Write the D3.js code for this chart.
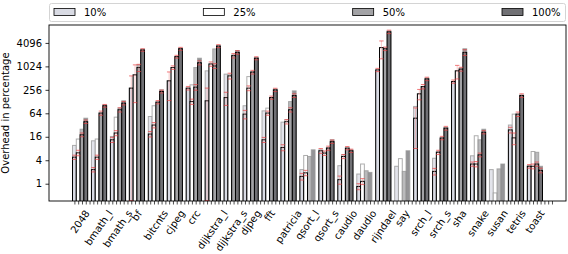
<!DOCTYPE html>
<html>
<head>
<meta charset="utf-8">
<script src="https://cdn.jsdelivr.net/npm/d3@7"></script>
<style>
    body { margin: 0; background: #fff; }
    svg { font-family: "DejaVu Sans", sans-serif; }
</style>
</head>
<body>
<svg id="chart" width="568" height="254"></svg>
<script>
const categories = ['2048', 'bmath_l', 'bmath_s', 'bf', 'bitcnts', 'cjpeg', 'crc', 'dijkstra_l', 'dijkstra_s', 'djpeg', 'fft', 'patricia', 'qsort_l', 'qsort_s', 'caudio', 'daudio', 'rijndael', 'say', 'srch_l', 'srch_s', 'sha', 'snake', 'susan', 'tetris', 'toast']
const seriesNames = ['10%', '25%', '50%', '100%']
const yTicks = [1, 4, 16, 64, 256, 1024, 4096]

// faded bars drawn behind
const back10 = [9.6, 12.6, 16.3, 283, 53, 436, 283, 786, 647, 100, 74, 38, 2.3, 7.4, 2.9, 1.77, 830, 2.8, 96, 4.5, 418, 5.2, 2.3, 32, 2.9]
const back25 = [14, 14, 51, 620, 100, 955, 344, 1180, 620, 560, 87, 43.6, 5.3, 6.1, 5.5, 3.2, 3100, 4.4, 202, 6.7, 786, 17, 0.58, 61, 6.7]
const back50 = [25, 65, 87, 1120, 124, 1820, 955, 2870, 2020, 755, 162, 128, 5, 8.5, 8.2, 2.15, 3000, 2.07, 311, 14.9, 920, 13.4, 2.4, 61, 6.4]
const back100 = [48, 105, 134, 2820, 256, 3000, 1660, 3490, 2600, 1720, 267, 241, 7.4, 13.4, 7.4, 1.95, 8300, 7, 510, 27.7, 2900, 25, 3.2, 190, 2.8]

// black edged bars in front
const front10 = [4.8, 2.3, 13.4, 283, 18.8, 436, 283, 134, 162, 61, 13.4, 8.5, 1.54, 7, 1.27, 0.85, 830, null, 48, 2.07, 418, 3.2, null, 24, 2.8]
const front25 = [6.2, 4.8, 20, 620, 32, 955, 128, 1180, 584, 283, 65, 39, 1.9, 6.1, 5, 1.15, 3100, null, 202, 6.4, 786, 3.2, null, 15, 2.8]
const front50 = [18, 65, 79, 955, 124, 1820, 300, 1050, 1930, 730, 162, 79, null, 8.2, 8.2, null, 2900, null, 311, 14.9, 870, 5.5, null, 61, 3.2]
const front100 = [39, 100, 117, 2700, 232, 2900, 1270, 3400, 2340, 1660, 256, 183, null, 12, 7, null, 7900, null, 490, 26.6, 2340, 21, null, 183, 2.2]

// error (+/-) on the front bars
const err10 = [0.6, 0.3, 2, 300, 3, 300, 30, 150, 60, 15, 2, 1.5, 0.3, 1, 0.3, 0.15, 80, null, 40, 0.4, 40, 0.4, null, 4, 0.3]
const err25 = [1, 0.6, 3, 500, 5, 100, 20, 150, 100, 40, 8, 5, 0.3, 0.8, 0.6, 0.2, 1500, null, 60, 0.8, 300, 0.5, null, 5, 0.4]
const err50 = [2, 8, 10, 200, 12, 150, 50, 150, 250, 80, 15, 10, null, 1, 0.8, null, 300, null, 40, 1.5, 100, 0.6, null, 8, 0.4]
const err100 = [4, 8, 12, 200, 20, 250, 150, 300, 250, 150, 25, 20, null, 1.2, 0.7, null, 800, null, 50, 3, 400, 2, null, 20, 0.3]

const colors = ['#d9dbe4', '#ffffff', '#a3a3a6', '#707074']
const backs = [back10, back25, back50, back100]
const fronts = [front10, front25, front50, front100]
const errs = [err10, err25, err50, err100]

const mLeft = 49, mRight = 566, mTop = 25, mBottom = 201
const perGroup = 5
const svg = d3.select('#chart')

const lastSlot = (categories.length - 1) * perGroup + seriesNames.length - 1
const pad = 0.05 * (lastSlot + 1)
const x = d3.scaleLinear().domain([-0.5 - pad, lastSlot + 0.5 + pad]).range([mLeft, mRight])
const y = d3.scaleLog().base(2).domain([0.36, 11800]).range([mBottom, mTop])

svg.append('clipPath').attr('id', 'plot')
    .append('rect').attr('x', mLeft).attr('y', mTop).attr('width', mRight - mLeft).attr('height', mBottom - mTop)

const plot = svg.append('g').attr('clip-path', 'url(#plot)')

const cells = []
categories.forEach((c, i) => {
    seriesNames.forEach((s, k) => {
        cells.push({ i, k, slot: i * perGroup + k, back: backs[k][i], front: fronts[k][i], err: errs[k][i] })
    })
})

// faded bars
plot.selectAll('rect.back')
    .data(cells)
    .enter()
    .append('rect')
    .attr('class', 'back')
    .attr('x', d => x(d.slot - 0.5))
    .attr('width', d => x(d.slot + 0.5) - x(d.slot - 0.5))
    .attr('y', d => y(d.back))
    .attr('height', d => mBottom - y(d.back) + 2)
    .attr('fill', d => colors[d.k])
    .attr('fill-opacity', 0.75)
    .attr('stroke', '#999')
    .attr('stroke-opacity', 0.8)
    .attr('stroke-width', 1)

// black edged bars
plot.selectAll('rect.front')
    .data(cells.filter(d => d.front != null))
    .enter()
    .append('rect')
    .attr('class', 'front')
    .attr('x', d => x(d.slot - 0.5))
    .attr('width', d => x(d.slot + 0.5) - x(d.slot - 0.5))
    .attr('y', d => y(d.front))
    .attr('height', d => mBottom - y(d.front) + 2)
    .attr('fill', d => colors[d.k])
    .attr('stroke', '#000')
    .attr('stroke-width', 1)

// red error bars
const errCells = cells.filter(d => d.front != null && d.err != null)
const eb = plot.selectAll('g.err').data(errCells).enter().append('g').attr('class', 'err')
eb.append('line')
    .attr('x1', d => x(d.slot)).attr('x2', d => x(d.slot))
    .attr('y1', d => y(Math.max(d.front - d.err, 0.37)))
    .attr('y2', d => y(d.front + d.err))
    .attr('stroke', '#f08a8a').attr('stroke-opacity', 0.45).attr('stroke-width', 1)
eb.selectAll('line.cap')
    .data(d => [Math.max(d.front - d.err, 0.37), d.front + d.err].map(v => ({ slot: d.slot, v })))
    .enter()
    .append('line')
    .attr('class', 'cap')
    .attr('x1', d => x(d.slot) - 2.2).attr('x2', d => x(d.slot) + 2.2)
    .attr('y1', d => y(d.v)).attr('y2', d => y(d.v))
    .attr('stroke', '#e8383b').attr('stroke-opacity', 0.65).attr('stroke-width', 1)

// frame
svg.append('rect')
    .attr('x', mLeft).attr('y', mTop).attr('width', mRight - mLeft).attr('height', mBottom - mTop)
    .attr('fill', 'none').attr('stroke', '#000').attr('stroke-width', 0.9)

// y axis
const yAxis = svg.append('g')
    .attr('transform', `translate(${mLeft}, 0)`)
    .call(d3.axisLeft(y).tickValues(yTicks).tickFormat(d3.format('d')).tickSize(3.5).tickPadding(3.5))
yAxis.select('.domain').remove()
yAxis.selectAll('text').attr('font-size', 10).attr('fill', '#000').attr('font-family', '"DejaVu Sans", sans-serif')
yAxis.selectAll('.tick line').attr('stroke', '#000').attr('stroke-width', 0.8)

// x axis: one tick per slot
const xAxis = svg.append('g')
    .attr('transform', `translate(0, ${mBottom})`)
    .call(d3.axisBottom(x).tickValues(d3.range(0, lastSlot + 4)).tickFormat('').tickSize(3.5))
xAxis.select('.domain').remove()
xAxis.selectAll('.tick line').attr('stroke', '#000').attr('stroke-width', 0.7)

// x labels, rotated, bbox centred on group centre
const labelY = mBottom + 7
const labels = svg.append('g')
categories.forEach((c, i) => {
    const cx = x(i * perGroup + (seriesNames.length - 1) / 2)
    const t = labels.append('text')
        .attr('font-size', 10)
        .attr('text-anchor', 'end')
        .attr('transform', `translate(${cx}, ${labelY}) rotate(-55)`)
        .text(c)
    const b = t.node().getBoundingClientRect()
    const dx = cx - (b.left + b.right) / 2
    const dy = labelY - b.top
    t.attr('transform', `translate(${cx + dx}, ${labelY + dy}) rotate(-55)`)
})

// y label
svg.append('text')
    .attr('transform', `translate(9, ${(mTop + mBottom) / 2}) rotate(-90)`)
    .attr('text-anchor', 'middle')
    .attr('font-size', 10)
    .text('Overhead in percentage')

// legend
const legend = svg.append('g')
legend.append('rect')
    .attr('x', 49.5).attr('y', 3.5).attr('width', 516).attr('height', 18).attr('rx', 2)
    .attr('fill', '#fff').attr('stroke', '#d4d4d4')
const lx = d3.scalePoint().domain(seriesNames).range([54, 502])
const items = legend.selectAll('g.item').data(seriesNames).enter().append('g')
    .attr('transform', d => `translate(${lx(d)}, 0)`)
items.append('rect')
    .attr('x', 0).attr('y', 8.5).attr('width', 21).attr('height', 7)
    .attr('fill', (d, k) => colors[k]).attr('stroke', '#000').attr('stroke-width', 0.8)
items.append('text')
    .attr('x', 30).attr('y', 16)
    .attr('font-size', 10)
    .text(d => d)
</script>
</body>
</html>
